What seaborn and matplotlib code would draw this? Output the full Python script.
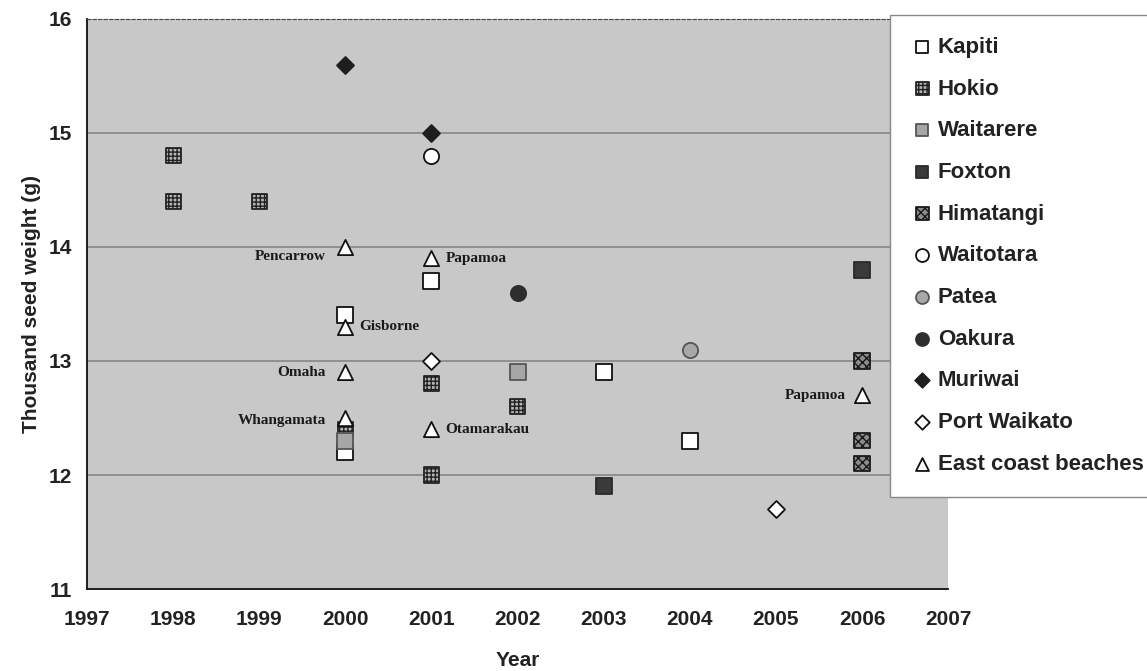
import pandas as pd
import matplotlib
matplotlib.use('Agg')
import matplotlib.pyplot as plt
import seaborn as sns

# Valores (ano, peso de mil sementes em g)
sites = ['Kapiti', 'Hokio', 'Waitarere', 'Foxton', 'Himatangi', 'Waitotara',
         'Patea', 'Oakura', 'Muriwai', 'Port Waikato', 'East coast beaches']

kapiti_anos = [2000, 2000, 2001, 2003, 2004]
kapiti_peso = [13.4, 12.2, 13.7, 12.9, 12.3]
hokio_anos = [1998, 1998, 1999, 2000, 2001, 2001, 2002]
hokio_peso = [14.8, 14.4, 14.4, 12.4, 12.8, 12.0, 12.6]
waitarere_anos = [2000, 2002]
waitarere_peso = [12.3, 12.9]
foxton_anos = [2003, 2006]
foxton_peso = [11.9, 13.8]
himatangi_anos = [2006, 2006, 2006]
himatangi_peso = [13.0, 12.3, 12.1]
waitotara_anos = [2001]
waitotara_peso = [14.8]
patea_anos = [2004]
patea_peso = [13.1]
oakura_anos = [2002]
oakura_peso = [13.6]
muriwai_anos = [2000, 2001]
muriwai_peso = [15.6, 15.0]
portwaikato_anos = [2001, 2005]
portwaikato_peso = [13.0, 11.7]
east_anos = [2000, 2000, 2000, 2000, 2001, 2001, 2006]
east_peso = [14.0, 13.3, 12.9, 12.5, 13.9, 12.4, 12.7]
east_praias = ['Pencarrow', 'Gisborne', 'Omaha', 'Whangamata', 'Papamoa',
               'Otamarakau', 'Papamoa']

anos = [kapiti_anos, hokio_anos, waitarere_anos, foxton_anos, himatangi_anos,
        waitotara_anos, patea_anos, oakura_anos, muriwai_anos,
        portwaikato_anos, east_anos]
pesos = [kapiti_peso, hokio_peso, waitarere_peso, foxton_peso, himatangi_peso,
         waitotara_peso, patea_peso, oakura_peso, muriwai_peso,
         portwaikato_peso, east_peso]

linhas = []
for site, a, p in zip(sites, anos, pesos):
    for ano, peso in zip(a, p):
        linhas.append({'Site': site, 'Ano': ano, 'Peso': peso})
dados = pd.DataFrame(linhas)

# estilo de cada local: marcador, cor, borda, hachura
estilos = {
    'Kapiti': ('s', 'white', '#111111', None),
    'Hokio': ('s', '#b4b4b4', '#222222', '++++'),
    'Waitarere': ('s', '#a6a6a6', '#555555', None),
    'Foxton': ('s', '#3a3a3a', '#2a2a2a', None),
    'Himatangi': ('s', '#8c8c8c', '#1a1a1a', 'xxxx'),
    'Waitotara': ('o', 'white', '#111111', None),
    'Patea': ('o', '#a8a8a8', '#555555', None),
    'Oakura': ('o', '#2e2e2e', '#2e2e2e', None),
    'Muriwai': ('D', '#1e1e1e', '#1e1e1e', None),
    'Port Waikato': ('D', 'white', '#111111', None),
    'East coast beaches': ('^', 'white', '#111111', None),
}
tamanhos = {'s': 120, 'o': 120, 'D': 75, '^': 120}

sns.set_style('white')
plt.rcParams['font.family'] = ['Liberation Sans', 'DejaVu Sans']
plt.rcParams['font.weight'] = 'bold'

fig = plt.figure(figsize=(11.47, 6.71), dpi=100)
ax = fig.add_axes([0.0759, 0.1222, 0.7507, 0.8495])
ax.set_facecolor('#c8c8c8')

for site in sites:
    m, fc, ec, h = estilos[site]
    sub = dados[dados['Site'] == site]
    kw = {}
    if h:
        kw['hatch'] = h
    sns.scatterplot(data=sub, x='Ano', y='Peso', marker=m, color=fc,
                    edgecolor=ec, linewidth=1.3, s=tamanhos[m], label=site,
                    ax=ax, zorder=3, **kw)

# nomes das praias da costa leste
desloc = [(-14, -7), (10, 0), (-14, 0), (-14, -2), (10, 0), (10, 0), (-12, 0)]
for ano, peso, nome, (dx, dy) in zip(east_anos, east_peso, east_praias, desloc):
    ax.annotate(nome, (ano, peso), xytext=(dx, dy), textcoords='offset points',
                ha='right' if dx < 0 else 'left', va='center',
                fontsize=11, fontweight='bold', color='#1a1a1a',
                family=['Liberation Serif', 'DejaVu Serif'], zorder=4)

ax.set_xlim(1997, 2007)
ax.set_ylim(11, 16)
ax.set_xticks(range(1997, 2008))
ax.set_yticks(range(11, 17))
ax.tick_params(axis='both', direction='out', length=7, width=1.2,
               colors='#111111', labelsize=15, labelcolor='#222222')
for lab in ax.get_xticklabels() + ax.get_yticklabels():
    lab.set_fontweight('bold')
ax.tick_params(axis='x', pad=8)

for v in [12, 13, 14, 15]:
    ax.axhline(v, color='#8c8c8c', linewidth=1.3, zorder=1)

ax.spines['right'].set_visible(False)
ax.spines['top'].set_linestyle((0, (3, 2)))
ax.spines['top'].set_color('#444444')
ax.spines['left'].set_color('#111111')
ax.spines['bottom'].set_color('#111111')
ax.spines['left'].set_linewidth(1.3)
ax.spines['bottom'].set_linewidth(1.3)

ax.set_xlabel('Year', fontsize=15, fontweight='bold', color='#222222',
              labelpad=16)
ax.set_ylabel('Thousand seed weight (g)', fontsize=15, fontweight='bold',
              color='#222222', labelpad=6)

handles, labels = ax.get_legend_handles_labels()
ax.get_legend().remove()
leg = fig.legend(handles, labels, loc='upper left',
                 bbox_to_anchor=(0.776, 0.978), borderaxespad=0,
                 frameon=True, fancybox=False,
                 framealpha=1, edgecolor='#888888',
                 labelspacing=0.93, handletextpad=0.25, handlelength=0.9,
                 borderpad=1.0, markerscale=0.85,
                 prop={'weight': 'bold', 'size': 16})
for t in leg.get_texts():
    t.set_color('#222222')

fig.savefig('out.png', dpi=100)
